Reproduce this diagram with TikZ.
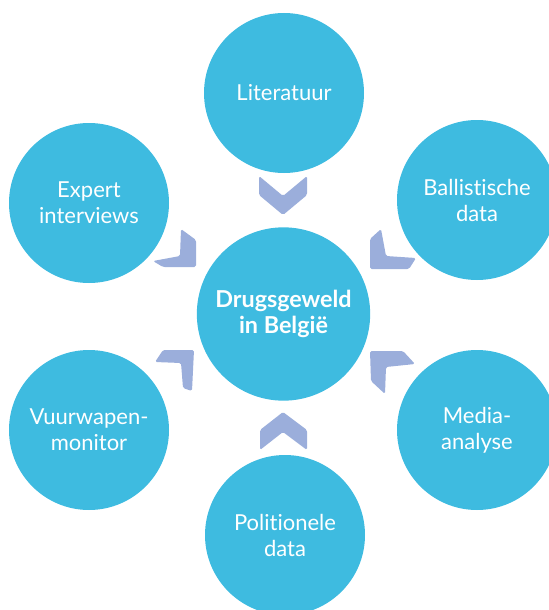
\documentclass[tikz,border=0pt]{standalone}
\usepackage{fontspec}
\setmainfont{Lato}[Ligatures=NoCommon]
\usetikzlibrary{positioning}
\definecolor{bubble}{HTML}{3EBBE0}
\definecolor{chevron}{HTML}{9BAEDB}

\begin{document}
\begin{tikzpicture}[x=0.75pt, y=-0.75pt,
	bron/.style={circle, fill=bubble, text=white, minimum size=120pt, inner sep=0pt,
		align=center, font=\fontsize{16.5}{19.5}\selectfont},
	kern/.style={bron, minimum size=130pt, font=\bfseries\fontsize{17.5}{19.5}\selectfont},
	pijl/.style={fill=chevron, rounded corners=1.2pt}]
	\useasboundingbox (0,0) rectangle (549,610);
	\clip (0,0) rectangle (549,610);

	% Nodes {centre + six sources}
	\node [kern] (drugs)   at (283.5,314) {Drugsgeweld\\in België};
	\node [bron] (lit)     at (284,93)    {Literatuur};
	\node [bron] (expert)  at (89,203)    {Expert\\interviews};
	\node [bron] (ballist) at (477,200)   {Ballistische\\data};
	\node [bron] (vuur)    at (89,430)    {Vuurwapen-\\monitor};
	\node [bron] (media)   at (477,430)   {Media-\\analyse};
	\node [bron] (politie) at (285,535)   {Politionele\\data};

	% Chevrons {pointing at the centre}
	\fill [pijl] (259,176) -- (283,196) -- (307,176) -- (307,195) -- (283,215) -- (259,195) -- cycle;
	\fill [pijl] (283,412) -- (307,430) -- (307,450) -- (283,432) -- (260,450) -- (260,430) -- cycle;
	\fill [pijl] (181,229) -- (196,240) -- (196,267) -- (163,267) -- (153,261) -- (180,256) -- cycle;
	\fill [pijl] (381,229) -- (370,239) -- (370,269) -- (409,269) -- (416,258) -- (386,256) -- cycle;
	\fill [pijl] (163,350) -- (194,350) -- (192,391) -- (183,388) -- (181,363) -- (155,362) -- cycle;
	\fill [pijl] (370,351) -- (403,351) -- (415,364) -- (386,367) -- (385,394) -- (371,381) -- cycle;
\end{tikzpicture}
\end{document}
